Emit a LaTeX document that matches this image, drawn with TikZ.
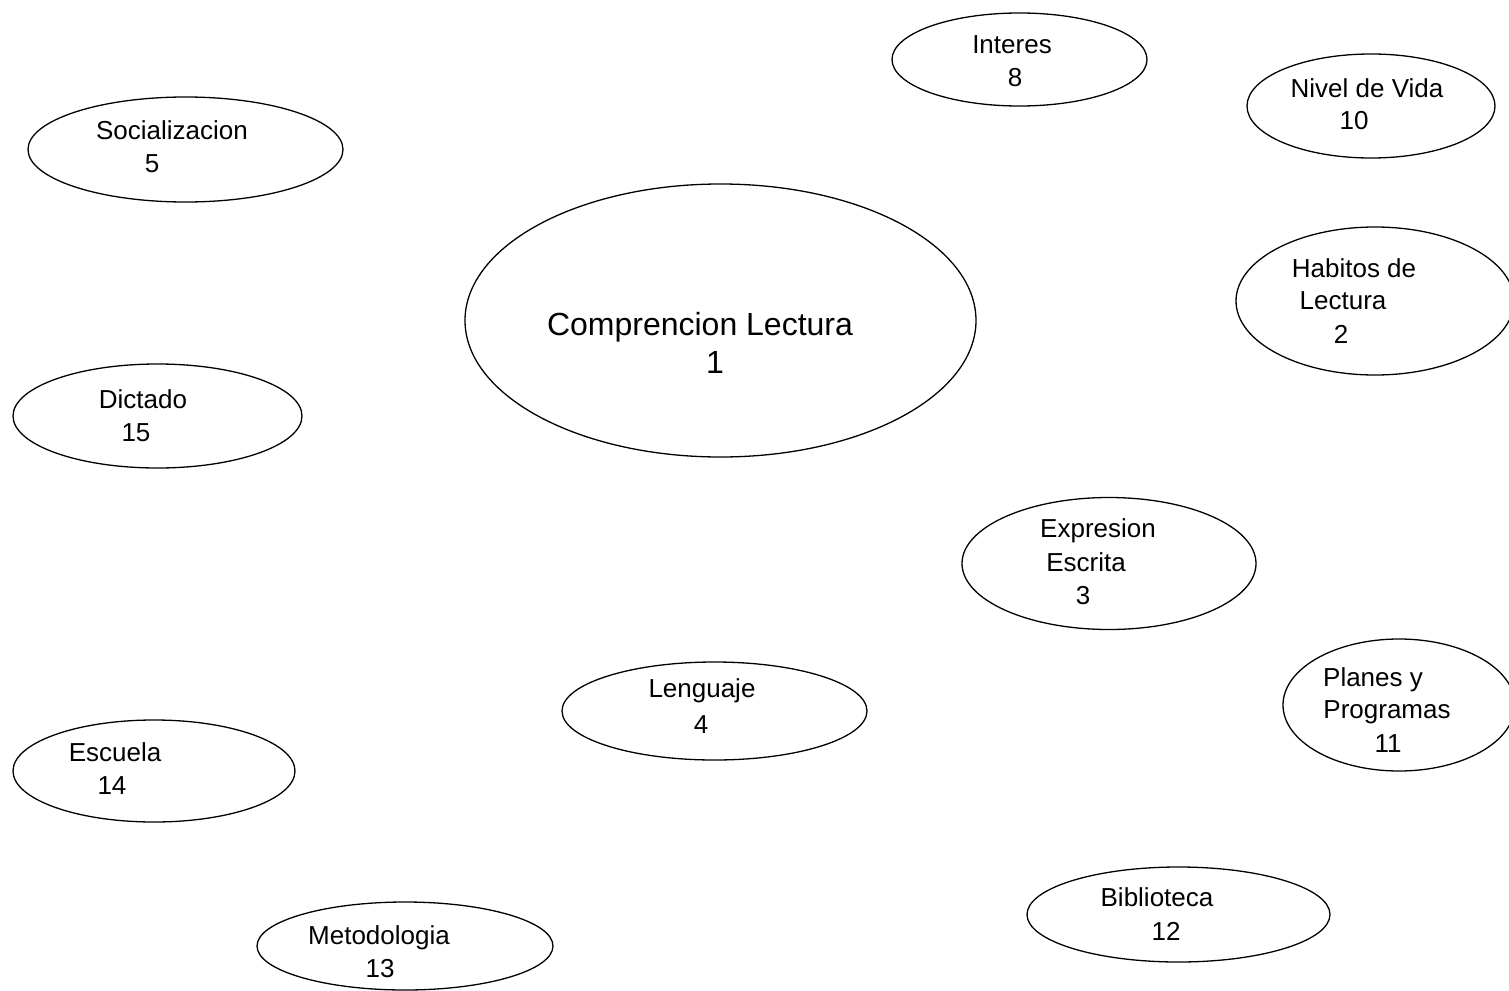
\documentclass[tikz,border=0pt]{standalone}
\usepackage{fontspec}
\setmainfont{Liberation Sans}
\usetikzlibrary{shapes.geometric}
\newcommand{\smallfnt}{\fontsize{26}{30}\selectfont}
\newcommand{\bigfnt}{\fontsize{32}{36}\selectfont}
\tikzset{
  oval/.style={draw=black, line width=1.3pt, ellipse, inner sep=0pt, outer sep=0pt},
  lbl/.style={inner sep=0pt, anchor=base, font=\smallfnt, text=black},
  biglbl/.style={inner sep=0pt, anchor=base, font=\bigfnt, text=black}
}
\begin{document}
\begin{tikzpicture}[x=1pt,y=-1pt]
\useasboundingbox (0,0) rectangle (1509,990);
% ellipses
\node[oval, minimum width=511pt, minimum height=273pt] (e1) at (720.5,320.5) {};
\node[oval, minimum width=255pt, minimum height=93pt] (e8) at (1019.5,59.5) {};
\node[oval, minimum width=248pt, minimum height=104pt] (e10) at (1371,106) {};
\node[oval, minimum width=315pt, minimum height=105pt] (e5) at (185.5,149.5) {};
\node[oval, minimum width=278pt, minimum height=148pt] (e2) at (1375,301) {};
\node[oval, minimum width=289pt, minimum height=104pt] (e15) at (157.5,416) {};
\node[oval, minimum width=294pt, minimum height=132pt] (e3) at (1109,563.5) {};
\node[oval, minimum width=305pt, minimum height=98pt] (e4) at (714.5,711) {};
\node[oval, minimum width=232pt, minimum height=132pt] (e11) at (1399,705) {};
\node[oval, minimum width=282pt, minimum height=102pt] (e14) at (154,771) {};
\node[oval, minimum width=296pt, minimum height=88pt] (e13) at (405,946) {};
\node[oval, minimum width=303pt, minimum height=95pt] (e12) at (1178.5,914.5) {};
% texts
\node[biglbl] (t1a) at (700,335) {Comprencion Lectura};
\node[biglbl] (t1b) at (715,373) {1};
\node[lbl] (t8a) at (1012,54) {Interes};
\node[lbl] (t8b) at (1015,86) {8};
\node[lbl] (t10a) at (1367,97) {Nivel de Vida};
\node[lbl] (t10b) at (1354,129) {10};
\node[lbl] (t5a) at (172,139) {Socializacion};
\node[lbl] (t5b) at (152,172) {5};
\node[lbl] (t2a) at (1354,277) {Habitos de};
\node[lbl] (t2b) at (1343,309) {Lectura};
\node[lbl] (t2c) at (1341,343) {2};
\node[lbl] (t15a) at (143,408) {Dictado};
\node[lbl] (t15b) at (136,441) {15};
\node[lbl] (t3a) at (1098,537) {Expresion};
\node[lbl] (t3b) at (1086,571) {Escrita};
\node[lbl] (t3c) at (1083,604) {3};
\node[lbl] (t4a) at (702,697) {Lenguaje};
\node[lbl] (t4b) at (701,733) {4};
\node[lbl] (t14a) at (115,761) {Escuela};
\node[lbl] (t14b) at (112,794) {14};
\node[lbl] (t13a) at (379,944) {Metodologia};
\node[lbl] (t13b) at (380,977) {13};
\node[lbl] (t12a) at (1157,906) {Biblioteca};
\node[lbl] (t12b) at (1166,940) {12};
\node[lbl] (t11a) at (1373,686) {Planes y};
\node[lbl] (t11b) at (1387,718) {Programas};
\node[lbl] (t11c) at (1388,752) {11};
\end{tikzpicture}
\end{document}
